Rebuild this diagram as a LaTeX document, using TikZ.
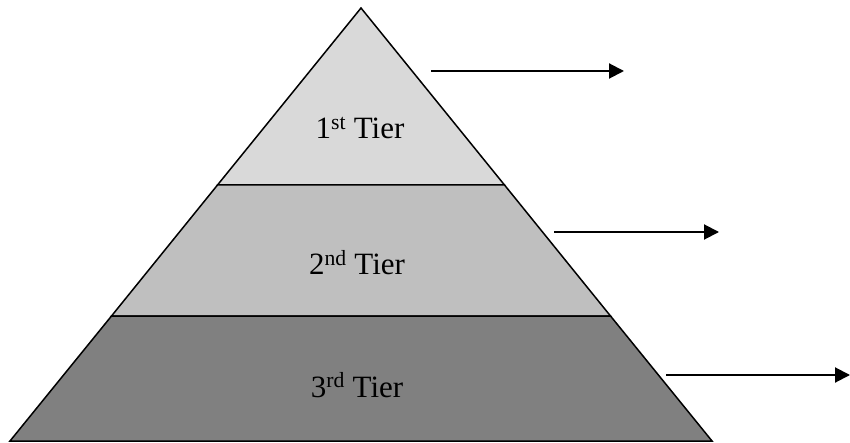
\documentclass[tikz,border=0pt]{standalone}
\usepackage{fontspec}
\setmainfont{Liberation Serif}
\usetikzlibrary{arrows.meta}
\begin{document}
\begin{tikzpicture}[x=1pt,y=-1pt,
  tier/.style={draw=black,line width=1.5pt,line join=miter},
  lbl/.style={font=\fontsize{31}{34}\selectfont,inner sep=0pt,anchor=base},
  arr/.style={line width=2pt,-{Triangle[length=15pt,width=15pt]}}]
\useasboundingbox (0,0) rectangle (850,443);
\coordinate (apex) at (361,8);
\coordinate (l1) at (217.5,185);
\coordinate (r1) at (504.5,185);
\coordinate (l2) at (111.5,316);
\coordinate (r2) at (610.5,316);
\coordinate (l3) at (10,441);
\coordinate (r3) at (712,441);
\filldraw[tier,fill=black!15] (apex) -- (r1) -- (l1) -- cycle;
\filldraw[tier,fill=black!25] (l1) -- (r1) -- (r2) -- (l2) -- cycle;
\filldraw[tier,fill=black!50] (l2) -- (r2) -- (r3) -- (l3) -- cycle;
\node[lbl] (t1) at (360,139) {1\textsuperscript{st} Tier};
\node[lbl] (t2) at (357,275) {2\textsuperscript{nd} Tier};
\node[lbl] (t3) at (357,397) {3\textsuperscript{rd} Tier};
\coordinate (a1s) at (431,71); \coordinate (a1e) at (624,71);
\coordinate (a2s) at (554,232); \coordinate (a2e) at (719,232);
\coordinate (a3s) at (666,375); \coordinate (a3e) at (850,375);
\draw[arr] (a1s) -- (a1e);
\draw[arr] (a2s) -- (a2e);
\draw[arr] (a3s) -- (a3e);
\end{tikzpicture}
\end{document}
